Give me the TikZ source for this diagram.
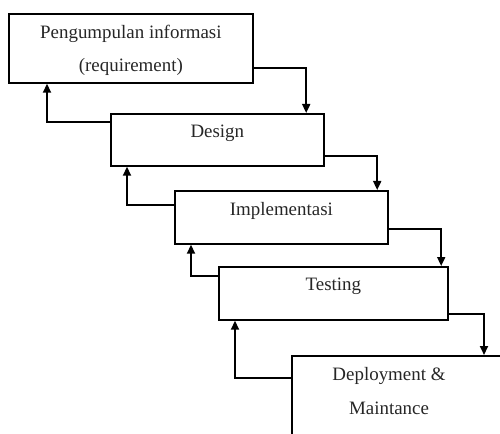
\documentclass[tikz,border=0pt]{standalone}
\usepackage{fontspec}
\setmainfont{Liberation Serif}
\usetikzlibrary{arrows.meta}
\tikzset{
  stage/.style={draw, line width=1.7bp, rectangle, anchor=north west, inner sep=0pt},
  caption/.style={font=\fontsize{19}{34}\selectfont, align=center, text=black!85, inner sep=0pt},
  flow/.style={line width=1.8bp, -{Triangle[length=9bp,width=8bp]}}
}
\begin{document}
\begin{tikzpicture}[x=1bp,y=-1bp]
  \useasboundingbox (0,0) rectangle (500,434);
  \clip (0,0) rectangle (500,434);

  % stage boxes
  \node[stage, minimum width=244bp, minimum height=69bp] (b1) at (8,13) {};
  \node[stage, minimum width=213bp, minimum height=52bp] (b2) at (110,113) {};
  \node[stage, minimum width=213bp, minimum height=53bp] (b3) at (174,190) {};
  \node[stage, minimum width=229bp, minimum height=53bp] (b4) at (218,266) {};
  \node[stage, minimum width=260bp, minimum height=120bp] (b5) at (291,355) {};

  % stage titles
  \node[caption] (t1) at ([yshift=-2bp]b1.center) {Pengumpulan informasi\\(requirement)};
  \node[caption] (t2) at ([yshift=7bp]b2.center) {Design};
  \node[caption] (t3) at ([yshift=6bp]b3.center) {Implementasi};
  \node[caption] (t4) at ([yshift=7bp]b4.center) {Testing};
  \node[caption, anchor=north] (t5) at ([xshift=98bp,yshift=-12bp]b5.north west) {Deployment \&\\Maintance};

  % forward flow
  \draw[flow] ([yshift=15.5bp]b1.south east) -| ([xshift=-18.5bp]b2.north east);
  \draw[flow] ([yshift=10.5bp]b2.south east) -| ([xshift=-11.5bp]b3.north east);
  \draw[flow] ([yshift=15.5bp]b3.south east) -| ([xshift=-7.5bp]b4.north east);
  \draw[flow] ([yshift=6.5bp]b4.south east) -| ([xshift=193bp]b5.north west);

  % feedback flow
  \draw[flow] ([yshift=-9bp]b2.north west) -| ([xshift=39bp]b1.south west);
  \draw[flow] ([yshift=-15bp]b3.north west) -| ([xshift=17bp]b2.south west);
  \draw[flow] ([yshift=-10bp]b4.north west) -| ([xshift=17bp]b3.south west);
  \draw[flow] ([yshift=-23bp]b5.north west) -| ([xshift=17bp]b4.south west);
\end{tikzpicture}
\end{document}
